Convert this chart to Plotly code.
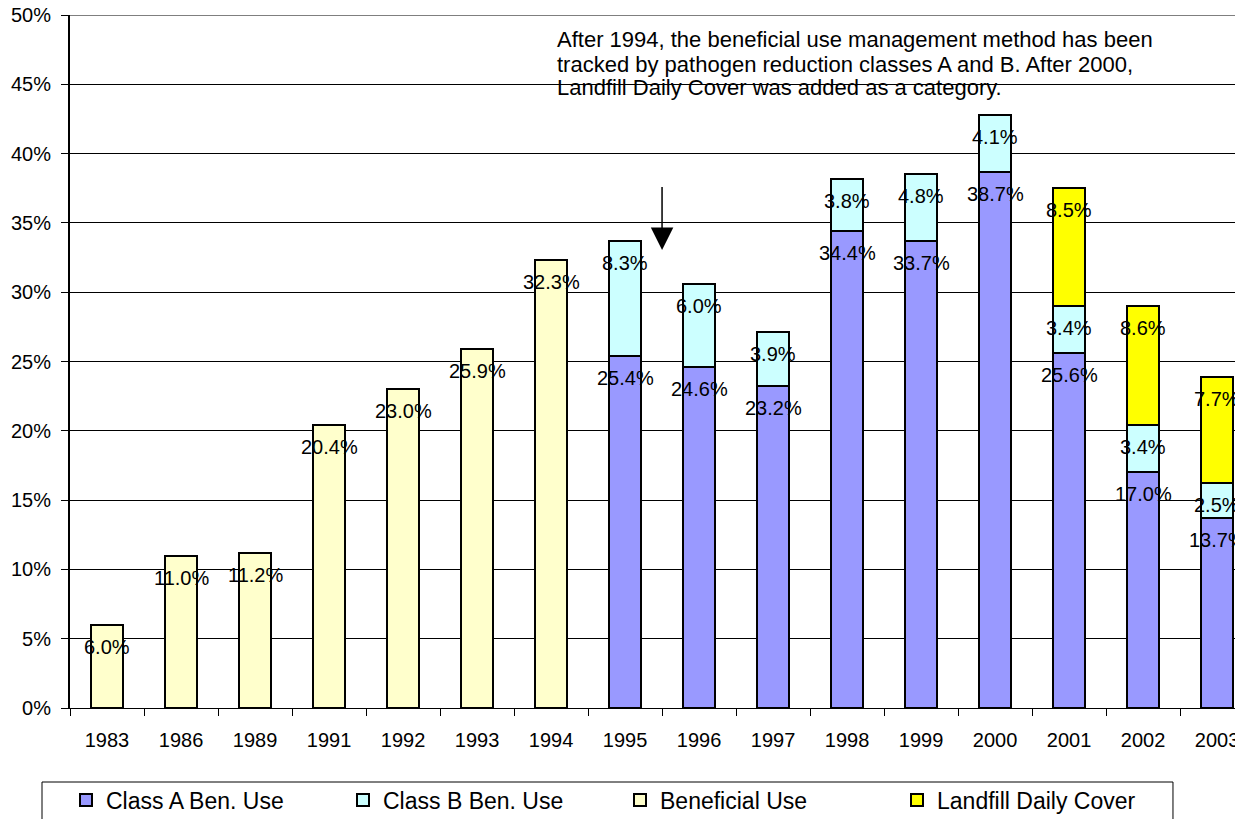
import plotly.graph_objects as go

years = ["1983", "1986", "1989", "1991", "1992", "1993", "1994", "1995",
         "1996", "1997", "1998", "1999", "2000", "2001", "2002", "2003"]
beneficial = [6.0, 11.0, 11.2, 20.4, 23.0, 25.9, 32.3] + [None] * 9
class_a = [None] * 7 + [25.4, 24.6, 23.2, 34.4, 33.7, 38.7, 25.6, 17.0, 13.7]
class_b = [None] * 7 + [8.3, 6.0, 3.9, 3.8, 4.8, 4.1, 3.4, 3.4, 2.5]
landfill = [None] * 13 + [8.5, 8.6, 7.7]

note_lines = ["After 1994, the beneficial use management method has been",
              "tracked by pathogen reduction classes A and B. After 2000,",
              "Landfill Daily Cover was added as a category."]

FONT = "Liberation Sans, Arial, sans-serif"
line = dict(color="black", width=2)

series = [
    ("Class A Ben. Use", class_a, "#9999FF"),
    ("Class B Ben. Use", class_b, "#CCFFFF"),
    ("Beneficial Use", beneficial, "#FFFFCC"),
    ("Landfill Daily Cover", landfill, "#FFFF00"),
]

fig = go.Figure()
for name, vals, col in series:
    fig.add_trace(go.Bar(x=years, y=vals, name=name,
                         marker=dict(color=col, line=line)))

# data labels: placed just below the top of each segment
annotations = []
stack_order = [class_a, class_b, landfill]
lab_font = dict(size=20, color="black", family=FONT)
for i, yr in enumerate(years):
    if beneficial[i] is not None:
        annotations.append(dict(x=i, y=beneficial[i], text=f"{beneficial[i]:.1f}%",
                                showarrow=False, yshift=-22, font=lab_font))
    cum = 0.0
    for arr in stack_order:
        v = arr[i]
        if v is None:
            continue
        cum += v
        annotations.append(dict(x=i, y=cum, text=f"{v:.1f}%",
                                showarrow=False, yshift=-22, font=lab_font))

for k, txt in enumerate(note_lines):
    annotations.append(dict(xref="paper", yref="paper", x=0.4135,
                            y=(708 - (40 + 24 * k)) / 693,
                            xanchor="left", yanchor="middle", align="left",
                            text=txt, showarrow=False,
                            font=dict(size=22, color="black", family=FONT)))
annotations.append(dict(x=7.5, y=33.05, ax=7.5, ay=37.7, axref="x", ayref="y",
                        text="", showarrow=True, arrowhead=2, arrowsize=3,
                        arrowwidth=1.5, arrowcolor="black", standoff=0))

shapes = [
    dict(type="rect", xref="paper", yref="paper",
         x0=-0.02387, x1=0.9403, y0=-0.1068, y1=-0.25,
         line=dict(color="black", width=1), fillcolor="rgba(0,0,0,0)"),
    # top gridline at the 50% range end
    dict(type="line", xref="paper", yref="y", x0=0, x1=1, y0=50, y1=50,
         line=dict(color="black", width=1), layer="below"),
]

fig.update_layout(
    width=1235, height=811,
    margin=dict(l=62, r=0, t=7, b=111, autoexpand=False),
    paper_bgcolor="white", plot_bgcolor="white",
    barmode="stack", bargap=0.57,
    font=dict(family=FONT, color="black", size=20),
    annotations=annotations,
    shapes=shapes,
    showlegend=True,
    legend=dict(orientation="h", x=-0.0034, xanchor="left", y=-0.1328, yanchor="middle",
                borderwidth=0, bgcolor="rgba(0,0,0,0)",
                font=dict(size=23, family=FONT, color="black"),
                entrywidth=232, entrywidthmode="pixels", traceorder="normal"),
    xaxis=dict(type="category", range=[-0.5, 15.35], showline=True, linecolor="black",
               linewidth=1, ticks="outside", tickson="boundaries", ticklen=7,
               tickcolor="black", showgrid=False, ticklabelstandoff=14,
               tickfont=dict(size=20, family=FONT, color="black")),
    yaxis=dict(range=[0, 50], dtick=5, ticksuffix="%", showgrid=True, gridcolor="black",
               gridwidth=1, showline=True, linecolor="black", linewidth=2,
               ticks="outside", ticklen=7, tickcolor="black", zeroline=False,
               ticklabelstandoff=6, ticklabeloverflow="allow",
               tickfont=dict(size=20, family=FONT, color="black")),
)

fig.write_html("out.html")
